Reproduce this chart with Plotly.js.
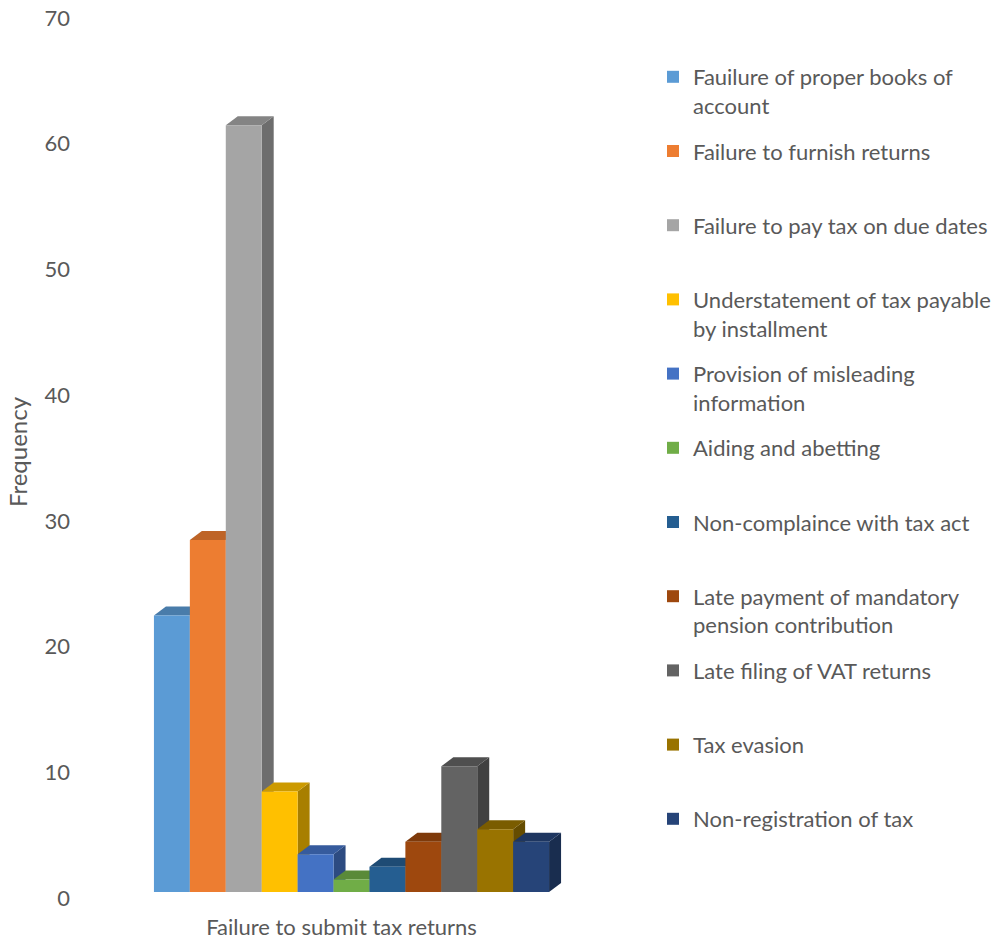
<!DOCTYPE html>
<html>
<head>
<meta charset="utf-8">
<script src="https://cdn.plot.ly/plotly-3.0.1.min.js"></script>
<style>html,body{margin:0;padding:0;background:#fff;}#chart{width:1008px;height:940px;}</style>
</head>
<body>
<div id="chart"></div>
<script>
// ---- data ----
var category = ['Failure to submit tax returns'];
var seriesNames = [
  'Fauilure of proper books of<br>account',
  'Failure to furnish returns<br>&nbsp;',
  'Failure to pay tax on due dates<br>&nbsp;',
  'Understatement of tax payable<br>by installment',
  'Provision of misleading<br>information',
  'Aiding and abetting<br>&nbsp;',
  'Non-complaince with tax act<br>&nbsp;',
  'Late payment of mandatory<br>pension contribution',
  'Late filing of VAT returns<br>&nbsp;',
  'Tax evasion<br>&nbsp;',
  'Non-registration of tax<br>&nbsp;'
];
var seriesValues = [22, 28, 61, 8, 3, 1, 2, 4, 10, 5, 4];
var seriesColors = ['#5B9BD5', '#ED7D31', '#A5A5A5', '#FFC000', '#4472C4', '#70AD47',
                    '#255E91', '#9E480E', '#636363', '#997300', '#264478'];
var yTicks = [0, 10, 20, 30, 40, 50, 60, 70];

// ---- layout constants ----
var W = 1008, H = 940;
var M = {l: 107, r: 412, t: 12, b: 48};
var plotW = W - M.l - M.r, plotH = H - M.t - M.b;
var BARGAP = 0.192;
var YMAX = 70;
var DEPTH_X_PX = 12, DEPTH_Y_PX = 9;
var textColor = '#595959';
var FONT = 'Lato, "Open Sans", sans-serif';

function shade(hex, f) {
  var n = parseInt(hex.slice(1), 16);
  var r = Math.round(((n >> 16) & 255) * f), g = Math.round(((n >> 8) & 255) * f), b = Math.round((n & 255) * f);
  return 'rgb(' + r + ',' + g + ',' + b + ')';
}

var traces = seriesValues.map(function (v, i) {
  return {
    type: 'bar', x: category, y: [v], name: seriesNames[i],
    legendgroup: 'g' + i,
    marker: {color: seriesColors[i], line: {width: 0}},
    hoverinfo: 'name+y'
  };
});

// 3D top and side faces, built from the data values in axis coordinates
var n = seriesValues.length;
var groupW = 1 - BARGAP, bw = groupW / n;
var dx = DEPTH_X_PX / plotW, dy = DEPTH_Y_PX * YMAX / plotH;
var shapes = [];
seriesValues.forEach(function (v, i) {
  var x0 = -groupW / 2 + i * bw, x1 = x0 + bw;
  shapes.push({
    type: 'path', xref: 'x', yref: 'y', layer: 'below', line: {width: 0},
    fillcolor: shade(seriesColors[i], 0.66),
    path: 'M' + x1 + ',0 L' + x1 + ',' + v + ' L' + (x1 + dx) + ',' + (v + dy) + ' L' + (x1 + dx) + ',' + dy + ' Z'
  });
  shapes.push({
    type: 'path', xref: 'x', yref: 'y', layer: 'below', line: {width: 0},
    fillcolor: shade(seriesColors[i], 0.8),
    path: 'M' + x0 + ',' + v + ' L' + (x0 + dx) + ',' + (v + dy) + ' L' + (x1 + dx) + ',' + (v + dy) + ' L' + x1 + ',' + v + ' Z'
  });
});

var layout = {
  width: W, height: H,
  margin: M,
  paper_bgcolor: '#ffffff', plot_bgcolor: 'rgba(0,0,0,0)',
  font: {family: FONT, color: textColor, size: 22},
  barmode: 'group', bargap: BARGAP, bargroupgap: 0,
  showlegend: true,
  legend: {
    xref: 'container', yref: 'container',
    x: 653 / W, xanchor: 'left', y: 1 - 56 / H, yanchor: 'top',
    font: {family: FONT, size: 22, color: textColor},
    traceorder: 'grouped', tracegroupgap: 14, valign: 'top',
    maxheight: 900,
    bgcolor: 'rgba(0,0,0,0)', borderwidth: 0
  },
  xaxis: {
    type: 'category', range: [-0.5, 0.5], fixedrange: true,
    showgrid: false, zeroline: false, showline: false, ticks: '',
    tickfont: {family: FONT, size: 22, color: textColor},
    ticklabelshift: -10, ticklabelstandoff: 20
  },
  yaxis: {
    range: [0, YMAX], tickvals: yTicks, ticktext: yTicks.map(String), fixedrange: true,
    showgrid: false, zeroline: false, showline: false, ticks: '',
    tickfont: {family: FONT, size: 22, color: textColor},
    ticklabelshift: 6, ticklabelstandoff: 36,
    title: {text: 'Frequency', font: {family: FONT, size: 24, color: textColor}, standoff: 10}
  },
  shapes: shapes
};

Plotly.newPlot('chart', traces, layout, {displayModeBar: false, staticPlot: true});
</script>
</body>
</html>
